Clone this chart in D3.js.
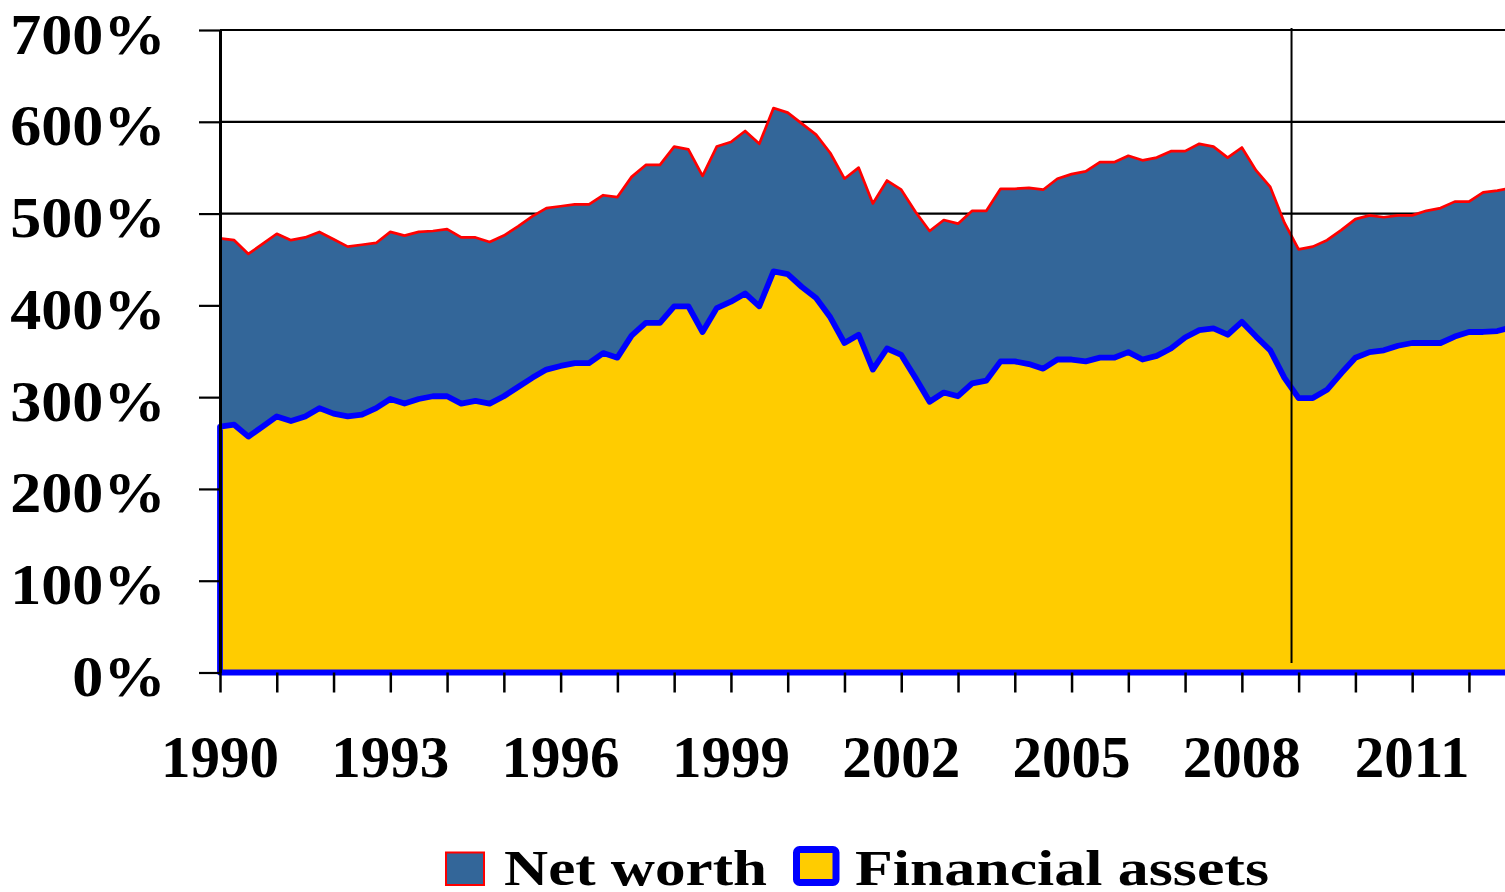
<!DOCTYPE html>
<html>
<head>
<meta charset="utf-8">
<script src="https://cdn.jsdelivr.net/npm/d3@7.9.0/dist/d3.min.js"></script>
<style>
  body { margin: 0; background: #fff; }
  svg { display: block; font-family: "Liberation Serif", "Times New Roman", serif; font-weight: bold; }
</style>
</head>
<body>
<svg id="chart" width="1505" height="892"></svg>
<script>
// quarterly, 1990Q1 .. 2012Q4 (percent of disposable income)
const quarters = d3.range(1990, 2013, 0.25);

const netWorth = [
  473, 471, 456, 467, 478, 471, 474, 480, 472, 464, 466, 468,
  480, 476, 480, 481, 483, 474, 474, 469, 476, 486, 497, 506,
  508, 510, 510, 520, 518, 540, 553, 553, 573, 570, 541, 573,
  578, 590, 576, 615, 610, 598, 586, 566, 538, 550, 511, 536,
  526, 502, 481, 493, 489, 503, 503, 527, 527, 528, 526, 538,
  543, 546, 556, 556, 563, 558, 561, 568, 568, 576, 573, 561,
  572, 547, 529, 490, 461, 464, 471, 482, 494, 498, 496, 498,
  498, 503, 506, 513, 513, 523, 525, 528
];

const financialAssets = [
  268, 270, 257, 268, 279, 274, 279, 288, 282, 279, 281, 288,
  298, 293, 298, 301, 301, 293, 296, 293, 301, 311, 321, 330,
  334, 337, 337, 348, 343, 367, 381, 381, 399, 399, 371, 397,
  404, 413, 399, 437, 434, 420, 408, 387, 359, 368, 330, 353,
  346, 321, 295, 305, 301, 315, 318, 339, 339, 336, 331, 341,
  341, 339, 343, 343, 349, 341, 345, 353, 365, 373, 375, 368,
  382, 366, 351, 321, 299, 299, 308, 326, 343, 349, 351, 356,
  359, 359, 359, 366, 371, 371, 372, 376
];

const yTicks = [0, 100, 200, 300, 400, 500, 600, 700];
const yearTicks = d3.range(1990, 2013);
const yearLabels = [1990, 1993, 1996, 1999, 2002, 2005, 2008, 2011];
const markerYear = 2008.875;

const seriesNames = ["Net worth", "Financial assets"];
const colNet = "#336699", colNetLine = "#ff0000";
const colFin = "#ffcc00", colFinLine = "#0000ff";

const plotLeft = 220, plotRight = 1505, plotTop = 30, plotBottom = 672.5;
const x = d3.scaleLinear().domain([1990, 1990 + (plotRight - plotLeft) / 56.77]).range([plotLeft, plotRight]);
const y = d3.scaleLinear().domain([0, 700]).range([plotBottom, plotTop]);

const svg = d3.select("#chart");

svg.append("defs").append("clipPath").attr("id", "plot")
  .append("rect").attr("x", plotLeft - 4).attr("y", 0)
  .attr("width", plotRight - plotLeft + 4).attr("height", plotBottom + 6);

// gridlines
svg.append("g").selectAll("line").data(yTicks.filter(d => d > 0)).join("line")
  .attr("x1", plotLeft).attr("x2", plotRight)
  .attr("y1", d => y(d)).attr("y2", d => y(d))
  .attr("stroke", "#000").attr("stroke-width", 2.2);

const plot = svg.append("g").attr("clip-path", "url(#plot)");

const area = d3.area().x((d, i) => x(quarters[i])).y0(y(0)).y1(d => y(d));
const line = d3.line().x((d, i) => x(quarters[i])).y(d => y(d));

plot.append("path").datum(netWorth).attr("d", area).attr("fill", colNet);
plot.append("path").datum(netWorth).attr("d", line)
  .attr("fill", "none").attr("stroke", colNetLine).attr("stroke-width", 2.7).attr("stroke-linejoin", "round");

plot.append("path").datum(financialAssets).attr("d", area)
  .attr("fill", colFin).attr("stroke", colFinLine).attr("stroke-width", 5.8).attr("stroke-linejoin", "round");

// y axis
const yAxis = svg.append("g").attr("transform", `translate(${plotLeft},0)`)
  .call(d3.axisLeft(y).tickValues(yTicks).tickSize(21).tickSizeOuter(0).tickFormat(d => d + "%"));
yAxis.select(".domain").attr("stroke", "#000").attr("stroke-width", 3);
yAxis.selectAll(".tick line").attr("stroke", "#000").attr("stroke-width", 2.2);
yAxis.selectAll(".tick text")
  .attr("x", -51).attr("dy", null).attr("y", 23)
  .attr("font-size", 58).attr("font-family", "Liberation Serif").attr("font-weight", "bold")
  .attr("fill", "#000").attr("text-anchor", "end")
  .attr("transform", "scale(1.07,1)");

// x axis ticks
const xAxis = svg.append("g").attr("transform", `translate(0,${plotBottom})`)
  .call(d3.axisBottom(x).tickValues(yearTicks).tickSize(20).tickSizeOuter(0).tickFormat(""));
xAxis.select(".domain").remove();
xAxis.selectAll(".tick line").attr("stroke", "#000").attr("stroke-width", 2.5);

svg.append("g").selectAll("text").data(yearLabels).join("text")
  .attr("x", d => x(d)).attr("y", 777)
  .attr("text-anchor", "middle").attr("font-size", 59).attr("fill", "#000")
  .text(d => d);

// marker line
svg.append("line")
  .attr("x1", x(markerYear)).attr("x2", x(markerYear))
  .attr("y1", plotTop - 2).attr("y2", 663)
  .attr("stroke", "#000").attr("stroke-width", 2);

// legend
const legend = svg.append("g");
legend.append("rect").attr("x", 446).attr("y", 852.5).attr("width", 38).attr("height", 32.5)
  .attr("fill", colNet).attr("stroke", colNetLine).attr("stroke-width", 2);
legend.append("text").attr("x", 504).attr("y", 885).attr("font-size", 51)
  .attr("textLength", 263).attr("lengthAdjust", "spacingAndGlyphs").text(seriesNames[0]);
legend.append("rect").attr("x", 796.5).attr("y", 849.5).attr("width", 39.5).attr("height", 33).attr("rx", 3)
  .attr("fill", colFin).attr("stroke", colFinLine).attr("stroke-width", 7);
legend.append("text").attr("x", 855).attr("y", 885).attr("font-size", 51)
  .attr("textLength", 414).attr("lengthAdjust", "spacingAndGlyphs").text(seriesNames[1]);
</script>
</body>
</html>
